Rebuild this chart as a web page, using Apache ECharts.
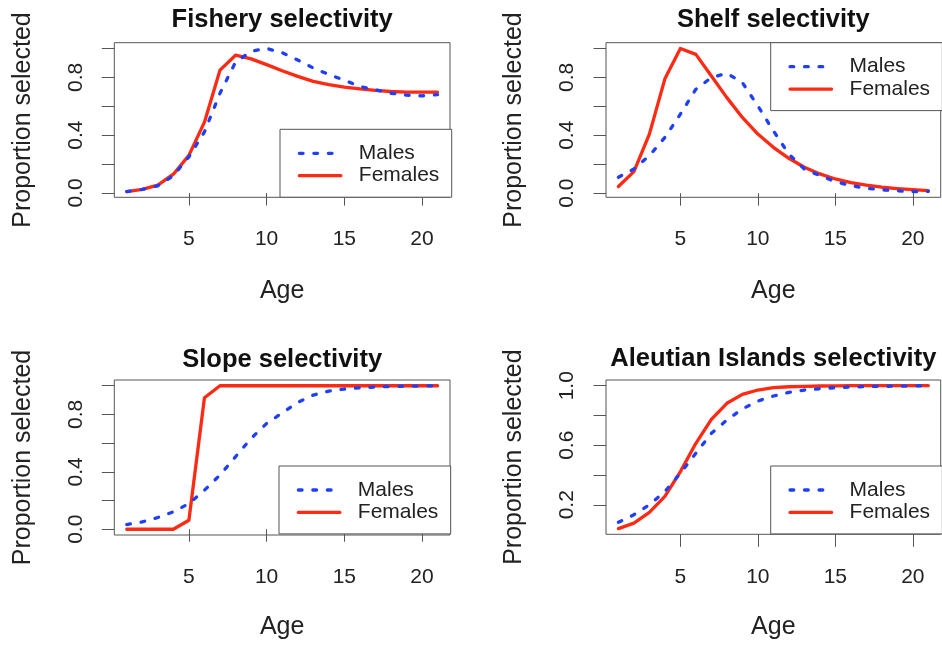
<!DOCTYPE html>
<html>
<head>
<meta charset="utf-8">
<script src="https://cdn.jsdelivr.net/npm/echarts@6/dist/echarts.min.js"></script>
<style>
  html, body { margin: 0; padding: 0; background: #fff; }
  #chart { width: 942px; height: 645px; }
</style>
</head>
<body>
<div id="chart"></div>
<script>
// Age classes shared by every panel
const ages = [1, 2, 3, 4, 5, 6, 7, 8, 9, 10, 11, 12, 13, 14, 15, 16, 17, 18, 19, 20, 21];

// Selectivity at age, by gear/area and sex
const fisheryMales   = [0.010, 0.025, 0.050, 0.120, 0.250, 0.423, 0.690, 0.905, 0.980, 1.000, 0.970, 0.920, 0.865, 0.820, 0.780, 0.737, 0.714, 0.690, 0.677, 0.672, 0.680];
const fisheryFemales = [0.010, 0.025, 0.055, 0.130, 0.260, 0.490, 0.850, 0.953, 0.928, 0.888, 0.846, 0.807, 0.772, 0.749, 0.733, 0.720, 0.710, 0.702, 0.698, 0.698, 0.698];

const shelfMales     = [0.110, 0.167, 0.259, 0.385, 0.546, 0.718, 0.798, 0.828, 0.764, 0.603, 0.431, 0.270, 0.167, 0.121, 0.080, 0.052, 0.034, 0.023, 0.016, 0.011, 0.012];
const shelfFemales   = [0.046, 0.149, 0.408, 0.790, 1.000, 0.959, 0.810, 0.660, 0.523, 0.408, 0.317, 0.241, 0.179, 0.133, 0.098, 0.073, 0.055, 0.041, 0.032, 0.025, 0.018];

const slopeMales     = [0.033, 0.051, 0.082, 0.121, 0.179, 0.272, 0.378, 0.505, 0.633, 0.737, 0.810, 0.884, 0.935, 0.963, 0.977, 0.986, 0.991, 0.995, 0.997, 0.998, 0.999];
const slopeFemales   = [0.000, 0.000, 0.000, 0.000, 0.063, 0.916, 1.000, 1.000, 1.000, 1.000, 1.000, 1.000, 1.000, 1.000, 1.000, 1.000, 1.000, 1.000, 1.000, 1.000, 1.000];

const aiMales        = [0.082, 0.133, 0.200, 0.289, 0.412, 0.546, 0.680, 0.770, 0.844, 0.897, 0.931, 0.955, 0.971, 0.980, 0.987, 0.991, 0.994, 0.996, 0.997, 0.998, 0.999];
const aiFemales      = [0.040, 0.077, 0.149, 0.256, 0.423, 0.613, 0.774, 0.882, 0.942, 0.971, 0.987, 0.993, 0.996, 0.998, 0.999, 1.000, 1.000, 1.000, 1.000, 1.000, 1.000];

// Panel titles and axis text
const panelTitles = ['Fishery selectivity', 'Shelf selectivity', 'Slope selectivity', 'Aleutian Islands selectivity'];
const xName = 'Age';
const yName = 'Proportion selected';
const seriesNames = ['Males', 'Females'];

// Tick marks and labelled ticks
const xTicks = [5, 10, 15, 20];
const yTicksFull = [0, 0.2, 0.4, 0.6, 0.8, 1.0];
const yTicksUpper = [0.2, 0.4, 0.6, 0.8, 1.0];
const yLabelsEven = [0, 0.4, 0.8];
const yLabelsOdd = [0.2, 0.6, 1.0];

const panelData = [
  { title: panelTitles[0], males: fisheryMales, females: fisheryFemales, yTicks: yTicksFull,  yLabels: yLabelsEven },
  { title: panelTitles[1], males: shelfMales,   females: shelfFemales,   yTicks: yTicksFull,  yLabels: yLabelsEven },
  { title: panelTitles[2], males: slopeMales,   females: slopeFemales,   yTicks: yTicksFull,  yLabels: yLabelsEven },
  { title: panelTitles[3], males: aiMales,      females: aiFemales,      yTicks: yTicksUpper, yLabels: yLabelsOdd }
];

// Plot-box placement for each panel (pixels) and where its legend sits
const layout = [
  { box: [114.3, 42.7, 335.7, 154.6], titleTop: 7,   legend: [280,   129.3], labelMargin: 31, nameGap: 81 },
  { box: [606,   42.7, 334.7, 154.6], titleTop: 7,   legend: [770.7, 42.7],  labelMargin: 31, nameGap: 81 },
  { box: [114.3, 380,  335.7, 155],   titleTop: 347, legend: [279,   466],   labelMargin: 32, nameGap: 79.5 },
  { box: [606,   380,  334.7, 154.3], titleTop: 346, legend: [770.7, 466],   labelMargin: 32, nameGap: 80 }
];

const FONT = '"Liberation Sans", Arial, Helvetica, sans-serif';
const TEXT = '#222';
const FRAME = '#555';
const BLUE = '#1f3fff';
const RED = '#ff2a14';

// Axis range padded by 4% of the data span on each side
function paddedExtent(values) {
  let lo = Infinity, hi = -Infinity;
  values.forEach(v => { if (v < lo) lo = v; if (v > hi) hi = v; });
  const pad = (hi - lo) * 0.04;
  return [lo - pad, hi + pad];
}

const xExtent = paddedExtent(ages);

const grid = [], xAxis = [], yAxis = [], series = [], title = [], legend = [];

panelData.forEach((p, i) => {
  const L = layout[i];
  const [left, top, width, height] = L.box;
  grid.push({
    left, top, width, height,
    show: true, borderColor: FRAME, borderWidth: 1, backgroundColor: 'transparent',
    containLabel: false
  });

  xAxis.push({
    type: 'value', gridIndex: i,
    min: xExtent[0], max: xExtent[1],
    axisLine: { show: false },
    splitLine: { show: false },
    axisTick: { show: true, inside: false, length: 12.5, customValues: xTicks, lineStyle: { color: FRAME, width: 1 } },
    axisLabel: { show: true, customValues: xTicks, margin: L.labelMargin, fontSize: 21, color: TEXT, fontFamily: FONT },
    name: xName, nameLocation: 'middle', nameGap: L.nameGap,
    nameTextStyle: { fontSize: 25, color: TEXT, fontFamily: FONT }
  });

  const yExt = paddedExtent(p.males.concat(p.females));
  yAxis.push({
    type: 'value', gridIndex: i,
    min: yExt[0], max: yExt[1],
    axisLine: { show: false },
    splitLine: { show: false },
    axisTick: { show: true, inside: false, length: 12.5, customValues: p.yTicks, lineStyle: { color: FRAME, width: 1 } },
    axisLabel: {
      show: true, customValues: p.yLabels, rotate: 90, margin: 28,
      fontSize: 21, color: TEXT, fontFamily: FONT,
      formatter: v => Number(v).toFixed(1)
    },
    name: yName, nameLocation: 'middle', nameGap: 79, nameRotate: 90,
    nameTextStyle: { fontSize: 25, color: TEXT, fontFamily: FONT }
  });

  // Females first so the dashed male curve is drawn over it
  series.push({
    name: seriesNames[1], type: 'line', xAxisIndex: i, yAxisIndex: i,
    data: ages.map((a, k) => [a, p.females[k]]),
    showSymbol: false, symbol: 'none', silent: true, animation: false,
    lineStyle: { color: RED, width: 3.3, cap: 'round', join: 'round' },
    itemStyle: { color: RED }
  });
  series.push({
    name: seriesNames[0], type: 'line', xAxisIndex: i, yAxisIndex: i,
    data: ages.map((a, k) => [a, p.males[k]]),
    showSymbol: false, symbol: 'none', silent: true, animation: false,
    lineStyle: { color: BLUE, width: 3.3, type: [3.7, 10.8], cap: 'round', join: 'round' },
    itemStyle: { color: BLUE }
  });

  title.push({
    text: p.title, left: left + width / 2, top: L.titleTop, textAlign: 'center', padding: 0,
    textStyle: { fontSize: 25.5, fontWeight: 'bold', color: '#111', fontFamily: FONT }
  });

  // Line-only legend keys: the marker that line series add is made invisible
  legend.push({
    data: seriesNames, orient: 'vertical',
    left: L.legend[0], top: L.legend[1],
    padding: [13.5, 12.3, 11, 17.7],
    itemGap: 1.4, itemWidth: 41.5, itemHeight: 14,
    backgroundColor: '#fff', borderColor: FRAME, borderWidth: 1, borderRadius: 0,
    selectedMode: false,
    itemStyle: { opacity: 0, color: 'transparent', borderColor: 'transparent', borderWidth: 0 },
    lineStyle: { width: 3.3 },
    textStyle: { fontSize: 21, color: TEXT, fontFamily: FONT, padding: [0, 0, 0, 13] }
  });
});

const chart = echarts.init(document.getElementById('chart'), null, { renderer: 'canvas' });
chart.setOption({
  backgroundColor: '#fff',
  animation: false,
  title, legend, grid, xAxis, yAxis, series
});
</script>
</body>
</html>
